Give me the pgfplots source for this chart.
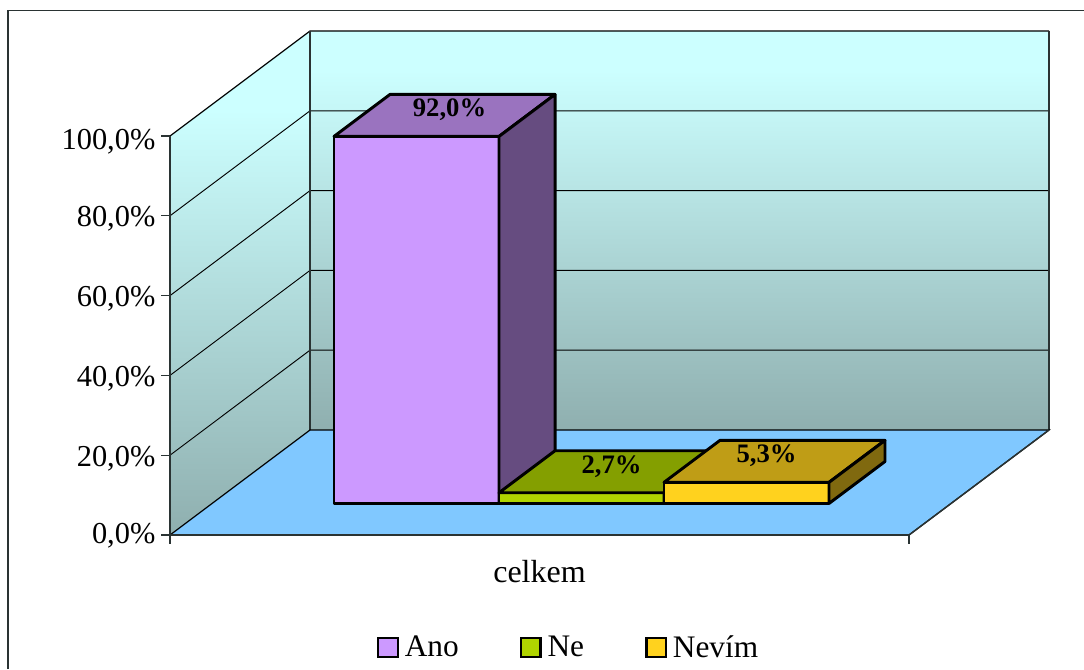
\documentclass[border=0pt]{standalone}
\usepackage{fontspec}
\setmainfont{Liberation Serif}
\usepackage{pgfplots}
\pgfplotsset{compat=1.18}

\definecolor{wallTop}{HTML}{CCFFFF}
\definecolor{wallBottom}{HTML}{8FAFAF}
\definecolor{floorBlue}{HTML}{80C8FF}
\definecolor{frameDark}{HTML}{2A3333}
\definecolor{anoFront}{HTML}{CC99FF}
\definecolor{anoTop}{HTML}{9A73BF}
\definecolor{anoSide}{HTML}{664C80}
\definecolor{neFront}{HTML}{B0D400}
\definecolor{neTop}{HTML}{849F00}
\definecolor{neSide}{HTML}{586A00}
\definecolor{nevimFront}{HTML}{FFD21E}
\definecolor{nevimTop}{HTML}{BF9D16}
\definecolor{nevimSide}{HTML}{80690F}

\newcommand{\axisfont}{\fontsize{22.8}{26}\selectfont}
\newcommand{\labelfont}{\fontsize{23.5}{27}\selectfont}
\newcommand{\valuefont}{\fontsize{20}{24}\selectfont\bfseries}

% One 3-D column: left edge, right edge, height, three face colours
\newcommand{\barcolumn}[6]{%
  \addplot3[forget plot,no marks,fill=#4,draw=black,line width=2.2pt,line join=round]
    coordinates {(#1,0.3,0) (#2,0.3,0) (#2,0.3,#3) (#1,0.3,#3)} --cycle;
  \addplot3[forget plot,no marks,fill=#5,draw=black,line width=2.2pt,line join=round]
    coordinates {(#1,0.3,#3) (#2,0.3,#3) (#2,0.7,#3) (#1,0.7,#3)} --cycle;
  \addplot3[forget plot,no marks,fill=#6,draw=black,line width=2.2pt,line join=round]
    coordinates {(#2,0.3,0) (#2,0.7,0) (#2,0.7,#3) (#2,0.3,#3)} --cycle;
}

\begin{document}
\begin{tikzpicture}
\useasboundingbox (-127.5pt,-100.5pt) rectangle (685.5pt,401.25pt);
\draw[frameDark,line width=1.3pt] (-121.5pt,-100.5pt) -- (-121.5pt,393.4pt) -- (685.5pt,393.4pt);
\begin{axis}[
  at={(0pt,0pt)}, anchor=origin,
  x={(554.25pt,0pt)}, y={(105pt,78.75pt)}, z={(0pt,2.9925pt)},
  xmin=0, xmax=1, ymin=0, ymax=1, zmin=0, zmax=100,
  clip=false,
  axis on top,
  axis lines=left,
  axis line style={-,draw=frameDark,line width=1.1pt},
  tick align=outside,
  x tick style={draw=none},
  z tick style={draw=none},
  major tick length=6.5pt,
  xtick={0,1}, xticklabels={},
  ytick=\empty,
  ztick={0,20,40,60,80,100},
  tick label style={font=\axisfont},
  every z tick label/.append style={yshift=12.5pt,xshift=-2.25pt},
  /pgf/number format/assume math mode=true,
  /pgf/number format/use comma,
  /pgf/number format/fixed,
  /pgf/number format/fixed zerofill,
  /pgf/number format/precision=1,
  zticklabel={\pgfmathprintnumber{\tick}\%},
  legend columns=3,
  legend cell align=left,
  legend style={
    at={(axis cs:0,0,0)}, anchor=north west, xshift=155.5pt, yshift=-73.5pt,
    draw=none, fill=none, font=\labelfont,
    /tikz/every even column/.append style={column sep=44pt},
    /tikz/every odd column/.append style={column sep=2.5pt},
    inner sep=0pt, outer sep=0pt,
  },
  legend image code/.code={
    \draw[#1,draw=black,line width=1.6pt] (0pt,-7pt) rectangle (14.5pt,7.5pt);
  },
]
  % Walls and floor: each wall stays pale at the top, then darkens downwards
  \begin{scope}
    \clip (axis cs:0,0,0) -- (axis cs:0,1,0) -- (axis cs:0,1,100) -- (axis cs:0,0,100) -- cycle;
    \fill[wallTop] (axis cs:0,0,0) rectangle (axis cs:0,1,100);
    \shade[top color=wallTop,bottom color=wallBottom]
      (axis cs:0,0,0) rectangle (axis cs:0,1,80.2);
  \end{scope}
  \begin{scope}
    \clip (axis cs:0,1,0) -- (axis cs:1,1,0) -- (axis cs:1,1,100) -- (axis cs:0,1,100) -- cycle;
    \fill[wallTop] (axis cs:0,1,0) rectangle (axis cs:1,1,100);
    \shade[top color=wallTop,bottom color=wallBottom]
      (axis cs:0,1,0) rectangle (axis cs:1,1,90.2);
  \end{scope}
  \addplot3[forget plot,no marks,fill=floorBlue,draw=none]
    coordinates {(0,0,0) (1,0,0) (1,1,0) (0,1,0)} --cycle;

  % Gridlines across the two walls
  \foreach \level in {20,40,60,80} {
    \edef\gridline{\noexpand\addplot3[forget plot,no marks,black,line width=0.7pt]
      coordinates {(0,0,\level) (0,1,\level) (1,1,\level)};}
    \gridline
  }
  % Wall outlines
  \addplot3[forget plot,no marks,black,line width=0.9pt]
    coordinates {(0,0,100) (0,1,100) (1,1,100)};
  \addplot3[forget plot,no marks,frameDark,line width=1pt]
    coordinates {(0,1,100) (0,1,0)};
  \addplot3[forget plot,no marks,frameDark,line width=1pt]
    coordinates {(0,0,100) (0,0,0)};
  \addplot3[forget plot,no marks,frameDark,line width=1pt]
    coordinates {(1,1,100) (1,1,0)};
  \addplot3[forget plot,no marks,black,line width=0.9pt]
    coordinates {(0,0,0) (0,1,0) (1,1,0) (1,0,0)};

  % Tick marks: level ticks run left of the wall, end ticks run down from the floor
  \draw[frameDark,line width=1pt] (axis cs:0,0,0) -- ++(-6.8pt,0pt);
  \draw[frameDark,line width=1pt] (axis cs:0,0,20) -- ++(-6.8pt,0pt);
  \draw[frameDark,line width=1pt] (axis cs:0,0,40) -- ++(-6.8pt,0pt);
  \draw[frameDark,line width=1pt] (axis cs:0,0,60) -- ++(-6.8pt,0pt);
  \draw[frameDark,line width=1pt] (axis cs:0,0,80) -- ++(-6.8pt,0pt);
  \draw[frameDark,line width=1pt] (axis cs:0,0,100) -- ++(-6.8pt,0pt);
  \draw[frameDark,line width=1pt] (axis cs:0,0,0) -- ++(0pt,-6.8pt);
  \draw[frameDark,line width=1pt] (axis cs:1,0,0) -- ++(0pt,-6.8pt);

  % Columns
  \barcolumn{0.1651}{0.3884}{92.0}{anoFront}{anoTop}{anoSide}
  \barcolumn{0.3884}{0.6116}{2.7}{neFront}{neTop}{neSide}
  \barcolumn{0.6116}{0.8349}{5.3}{nevimFront}{nevimTop}{nevimSide}

  % Value labels on the column tops
  \node[font=\valuefont,inner sep=0pt,yshift=4.2pt] at (axis cs:0.2835,0.5,92.0) {92,0\%};
  \node[font=\valuefont,inner sep=0pt,yshift=3.8pt] at (axis cs:0.5027,0.5,2.7) {2,7\%};
  \node[font=\valuefont,inner sep=0pt,yshift=4.2pt] at (axis cs:0.7125,0.5,5.3) {5,3\%};

  % Category name under the floor
  \node[font=\fontsize{24}{27}\selectfont,inner sep=0pt] at (axis cs:0.5,0,0) [yshift=-27.5pt] {celkem};

  \addlegendimage{fill=anoFront}
  \addlegendentry{Ano}
  \addlegendimage{fill=neFront}
  \addlegendentry{Ne}
  \addlegendimage{fill=nevimFront}
  \addlegendentry{Nevím}
\end{axis}
\end{tikzpicture}
\end{document}
